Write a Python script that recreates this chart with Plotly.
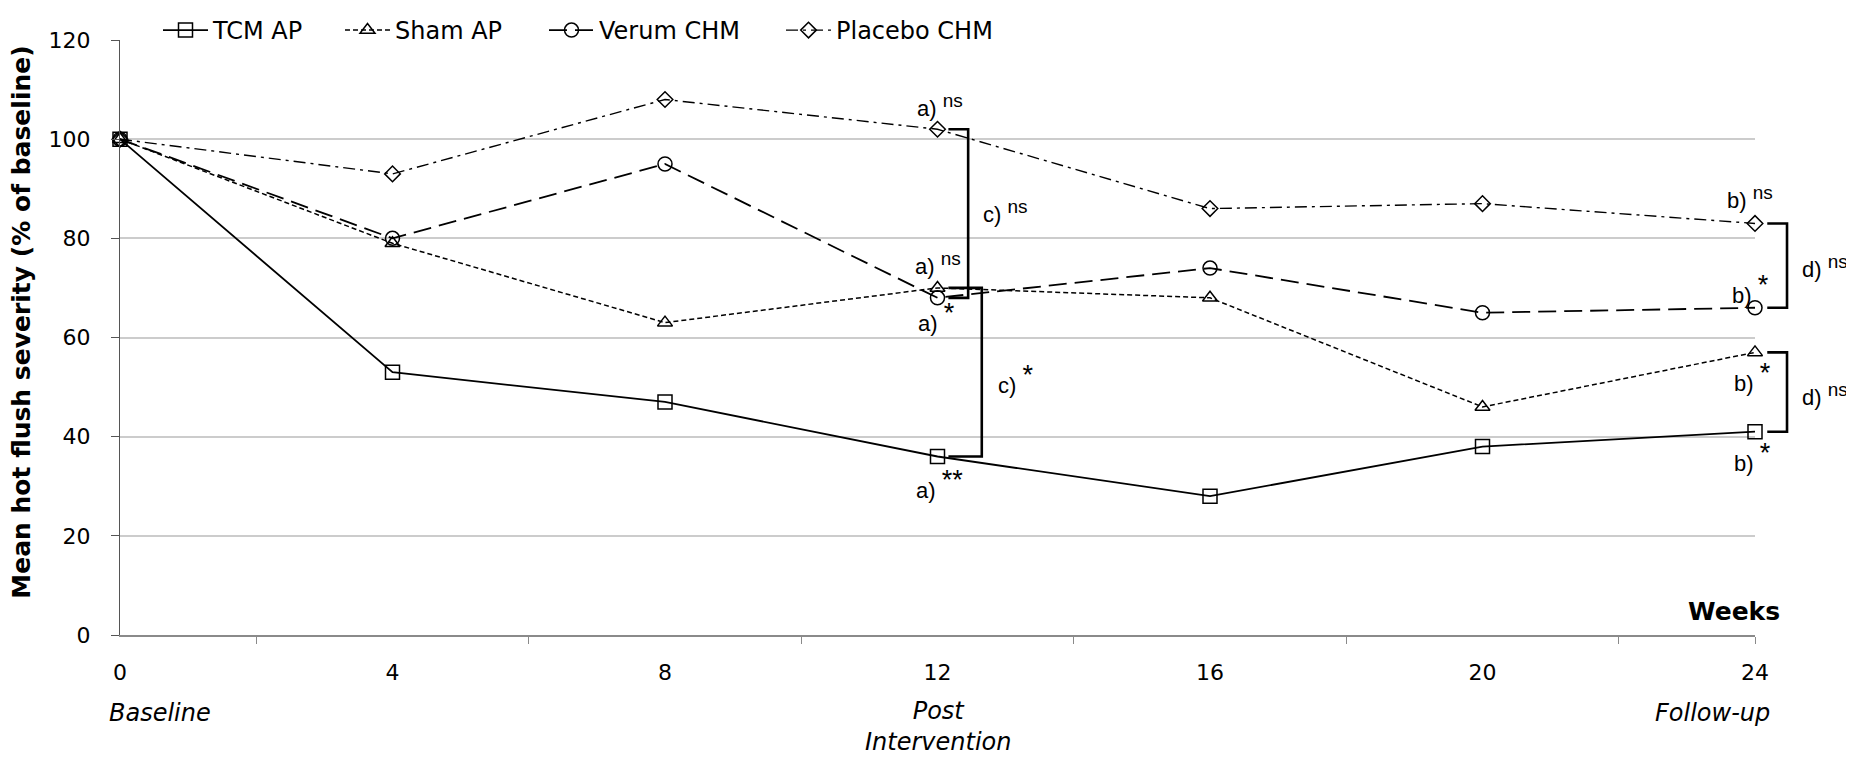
import plotly.graph_objects as go

weeks = [0, 4, 8, 12, 16, 20, 24]
tcm_ap = [100, 53, 47, 36, 28, 38, 41]
sham_ap = [100, 79, 63, 70, 68, 46, 57]
verum_chm = [100, 80, 95, 68, 74, 65, 66]
placebo_chm = [100, 93, 108, 102, 86, 87, 83]
y_ticks = [0, 20, 40, 60, 80, 100, 120]
x_ticks = [0, 4, 8, 12, 16, 20, 24]
x_minor_ticks = [2, 6, 10, 14, 18, 22, 24]

NS = '<sup><span style="font-size:19px">ns</span></sup>'
ST = '<sup><span style="font-size:27px">*</span></sup>'
ST2 = '<sup><span style="font-size:27px">**</span></sup>'

# significance labels: (text, week, value)
sig_labels = [
    ("a) " + NS, 12.03, 106.8),
    ("c) " + NS, 13.0, 85.5),
    ("a) " + NS, 12.0, 75.0),
    ("a) " + ST, 11.98, 64.2),
    ("c) " + ST, 13.14, 51.6),
    ("a) " + ST2, 12.03, 30.4),
    ("b) " + NS, 23.93, 88.3),
    ("d) " + NS, 25.03, 74.4),
    ("b) " + ST, 23.93, 69.8),
    ("b) " + ST, 23.96, 52.0),
    ("d) " + NS, 25.03, 48.6),
    ("b) " + ST, 23.96, 35.9),
]

FONT = "DejaVu Sans"
ARIAL = "Liberation Sans"

# page body has an 8px margin; figure sized to fill the rest of the window
W, H = 1846, 749
ML, MR, MT, MB = 112, 99, 32, 122

series = [
    ("TCM AP", tcm_ap, "square-open", 14, "solid", 1.8, "legend", 150),
    ("Sham AP", sham_ap, "triangle-up-open", 13, "5px,3px", 1.5, "legend2", 332),
    ("Verum CHM", verum_chm, "circle-open", 14, "18px,8px", 1.8, "legend3", 536),
    ("Placebo CHM", placebo_chm, "diamond-open", 12, "12px,5px,3px,5px", 1.4, "legend4", 773),
]

fig = go.Figure()
legends = {}
for name, vals, sym, size, dash, lw, leg, lx in series:
    fig.add_trace(go.Scatter(
        x=weeks, y=vals, name=name, mode="lines+markers", legend=leg,
        line=dict(color="black", width=lw, dash=dash),
        marker=dict(symbol=sym, size=size, color="black",
                    line=dict(color="black", width=1.5)),
        cliponaxis=False,
    ))
    legends[leg] = dict(orientation="h", xref="container", yref="container",
                        x=lx / W, xanchor="left", y=1.0, yanchor="top",
                        font=dict(family=FONT, size=24, color="black"),
                        itemwidth=45, bgcolor="rgba(0,0,0,0)", borderwidth=0)

# brackets between groups (built from data values)
def bracket(week, v1, v2, x0_off, x1_off):
    x0 = (week + x0_off) / 24
    x1 = (week + x1_off) / 24
    path = f"M {x0},{v1} L {x1},{v1} L {x1},{v2} L {x0},{v2}"
    fig.add_shape(type="path", path=path, xref="paper", yref="y",
                  line=dict(color="black", width=2.6))

bracket(weeks[3], placebo_chm[3], verum_chm[3], 0.16, 0.45)
bracket(weeks[3], sham_ap[3], tcm_ap[3], 0.16, 0.65)
bracket(weeks[6], placebo_chm[6], verum_chm[6], 0.18, 0.47)
bracket(weeks[6], sham_ap[6], tcm_ap[6], 0.18, 0.47)

for text, wk, val in sig_labels:
    fig.add_annotation(text=text, x=wk / 24, xref="paper", y=val, yref="y",
                       showarrow=False, xanchor="center", yanchor="middle",
                       font=dict(family=ARIAL, size=22, color="black"))

# axis / category annotations
fig.add_annotation(text="<b>Mean hot flush severity (% of baseline)</b>",
                   textangle=-90, x=-0.0599, xref="paper", xanchor="center",
                   y=0.525, yref="paper", yanchor="middle",
                   showarrow=False, font=dict(family=FONT, size=25, color="black"))
fig.add_annotation(text="<b>Weeks</b>", x=1.0165, xref="paper", y=0.0387, yref="paper",
                   xanchor="right", yanchor="middle", showarrow=False,
                   font=dict(family=FONT, size=25, color="black"))
fig.add_annotation(text="<i>Baseline</i>", x=0.59 / 24, xref="paper", y=-0.131, yref="paper",
                   xanchor="center", yanchor="middle", showarrow=False,
                   font=dict(family=FONT, size=24, color="black"))
fig.add_annotation(text="<i>Post<br>Intervention</i>", x=12.0 / 24, xref="paper", y=-0.1546,
                   yref="paper", xanchor="center", yanchor="middle", showarrow=False,
                   font=dict(family=FONT, size=24, color="black"))
fig.add_annotation(text="<i>Follow-up</i>", x=23.38 / 24, xref="paper", y=-0.131, yref="paper",
                   xanchor="center", yanchor="middle", showarrow=False,
                   font=dict(family=FONT, size=24, color="black"))

fig.update_layout(
    width=W, height=H,
    margin=dict(l=ML, r=MR, t=MT, b=MB, autoexpand=False),
    plot_bgcolor="white", paper_bgcolor="white",
    font=dict(family=FONT, size=22, color="black"),
    showlegend=True,
    xaxis=dict(range=[0, 24], tickvals=x_ticks, ticktext=[str(t) for t in x_ticks],
               showgrid=False, zeroline=False, showline=True, linecolor="#8a8a8a",
               linewidth=2, ticks="", ticklabelstandoff=17,
               tickfont=dict(family=FONT, size=22),
               minor=dict(tickvals=x_minor_ticks, ticks="outside", ticklen=7,
                          tickcolor="#8a8a8a", tickwidth=1, showgrid=False)),
    yaxis=dict(range=[0, 120], tickvals=y_ticks, showgrid=True, gridcolor="#cccccc",
               gridwidth=1.5, zeroline=False, showline=True, linecolor="#555555",
               linewidth=1, ticks="outside", ticklen=8, tickcolor="#555555",
               ticklabelstandoff=16, tickfont=dict(family=FONT, size=22)),
    **legends,
)

fig.write_html("out.html")
